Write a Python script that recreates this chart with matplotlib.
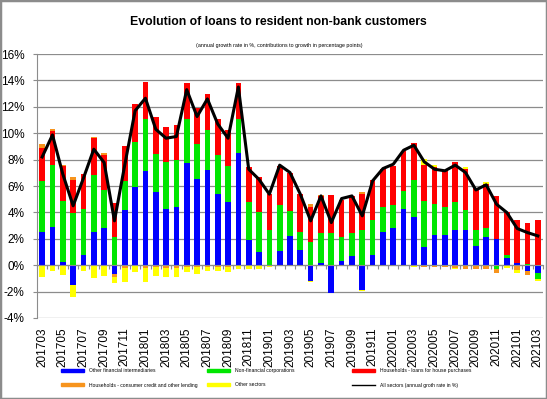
import numpy as np
import matplotlib.pyplot as plt
from matplotlib.patches import Patch, Rectangle
from matplotlib.lines import Line2D

plt.rcParams['font.family'] = ['Liberation Sans', 'DejaVu Sans']
plt.rcParams['axes.unicode_minus'] = False

# months 201703 .. 202103
months = ['201703', '201704', '201705', '201706', '201707', '201708', '201709',
          '201710', '201711', '201712', '201801', '201802', '201803', '201804',
          '201805', '201806', '201807', '201808', '201809', '201810', '201811',
          '201812', '201901', '201902', '201903', '201904', '201905', '201906',
          '201907', '201908', '201909', '201910', '201911', '201912', '202001',
          '202002', '202003', '202004', '202005', '202006', '202007', '202008',
          '202009', '202010', '202011', '202012', '202101', '202102', '202103']

# contributions to growth (percentage points)
ofi = [2.53, 2.90, 0.25, -1.49, 0.76, 2.53, 2.80, -0.68, 4.19, 5.96, 7.15, 5.56,
       4.24, 4.39, 7.73, 6.50, 7.20, 5.38, 4.80, 8.48, 1.92, 1.00, 0.05, 1.09,
       2.22, 1.16, -1.19, 0.15, -2.07, 0.33, 0.66, -1.87, 0.76, 2.53, 2.80, 4.24,
       3.66, 1.39, 2.30, 2.27, 2.68, 2.68, 1.46, 2.15, 1.97, 0.58, 0.15, -0.43, -0.56]
nfc = [3.86, 4.70, 4.62, 3.99, 3.48, 4.29, 2.90, 2.12, 2.20, 3.38, 3.95, 2.84,
       3.59, 3.59, 3.33, 2.67, 3.05, 2.95, 2.73, 2.58, 2.88, 3.00, 2.60, 3.46,
       1.90, 1.37, 1.77, 2.27, 2.42, 1.84, 1.76, 2.65, 2.65, 1.89, 1.77, 1.39,
       2.78, 3.48, 2.32, 2.15, 2.12, 1.49, 1.19, 0.70, -0.28, 0.18, 0.00, 0.10, -0.50]
house = [2.47, 2.53, 2.66, 2.47, 2.70, 2.80, 2.63, 2.63, 2.65, 2.86, 2.80, 2.84,
         2.67, 2.62, 2.74, 2.73, 2.75, 2.73, 2.70, 2.78, 2.67, 2.70, 2.73, 2.98,
         2.90, 2.85, 2.65, 2.83, 2.88, 2.75, 2.83, 2.73, 3.05, 2.85, 2.96, 3.03,
         2.78, 2.73, 2.85, 2.78, 3.03, 3.10, 3.23, 3.29, 3.28, 3.28, 3.26, 3.13, 3.41]
consumer = [0.31, 0.17, 0.05, 0.23, 0.00, 0.10, 0.15, -0.20, -0.18, 0.00, -0.18, -0.13,
            -0.18, -0.18, -0.13, -0.15, -0.10, -0.10, -0.10, -0.08, -0.05, -0.05, 0.00, 0.00,
            0.00, 0.00, 0.20, 0.08, 0.00, 0.00, 0.00, 0.17, 0.00, 0.00, 0.00, 0.00,
            0.00, -0.10, -0.10, -0.12, -0.23, -0.28, -0.28, -0.30, -0.30, 0.00, -0.38, -0.30, 0.00]
other = [-0.93, -0.43, -0.73, -0.91, -0.43, -0.98, -0.83, -0.46, -1.08, -0.48, -1.08, -0.70,
         -0.70, -0.70, -0.35, -0.53, -0.33, -0.33, -0.45, -0.22, -0.20, -0.25, -0.10, 0.00,
         0.00, 0.00, -0.05, 0.00, -0.05, 0.00, 0.00, -0.08, 0.00, 0.00, 0.00, 0.00,
         -0.10, 0.43, 0.11, 0.00, -0.07, 0.15, 0.00, 0.20, 0.00, -0.20, -0.20, 0.00, -0.13]
# annual growth rate, all sectors (%)
total = [8.20, 9.87, 6.90, 4.50, 6.60, 8.79, 7.78, 3.36, 7.60, 11.70, 12.65, 10.30,
         9.62, 9.75, 13.30, 11.26, 12.60, 10.70, 9.62, 13.50, 7.27, 6.50, 5.38, 7.58,
         7.02, 5.38, 3.36, 5.25, 3.23, 5.05, 5.25, 3.74, 6.39, 7.32, 7.65, 8.71,
         9.09, 7.83, 7.27, 7.15, 7.58, 7.02, 5.70, 6.09, 4.62, 3.99, 2.78, 2.47, 2.22]

names = ['Other financial intermediaries', 'Non-financial corporations',
         'Households - loans for house purchases',
         'Households - consumer credit and other lending', 'Other sectors']
colors = ['#0000FF', '#00E600', '#FF0000', '#F7941D', '#FFFF00']
series = [ofi, nfc, house, consumer, other]

fig = plt.figure(figsize=(5.47, 3.99), dpi=100)
ax = fig.add_axes([37 / 547, 81 / 399, 506 / 547, 264 / 399])

x = np.arange(len(months))
pos_base = np.zeros(len(x))
neg_base = np.zeros(len(x))
for vals, col, name in zip(series, colors, names):
    v = np.array(vals)
    base = np.where(v >= 0, pos_base, neg_base)
    ax.bar(x, v, 0.55, bottom=base, color=col, label=name, zorder=2)
    pos_base += np.clip(v, 0, None)
    neg_base += np.clip(v, None, 0)

ax.plot(x, total, color='black', lw=2.2, zorder=3)

ax.set_xlim(-0.5, len(x) - 0.5)
ax.set_ylim(-4, 16)
ax.set_yticks(np.arange(-4, 17, 2))
ax.set_yticklabels([f'{t}%' for t in range(-4, 17, 2)], fontsize=8.5)
ax.grid(axis='y', color='#8c8c8c', lw=0.9, zorder=0)
ax.tick_params(axis='y', length=3, color='#8c8c8c', pad=6)

for s in ['top', 'right']:
    ax.spines[s].set_visible(False)
ax.spines['left'].set_color('#8c8c8c')
ax.spines['bottom'].set_position(('data', 0))
ax.spines['bottom'].set_color('#8c8c8c')
ax.set_xticks(np.arange(len(x) + 1) - 0.5)
ax.tick_params(axis='x', length=3, color='#8c8c8c', labelbottom=False)

sec = ax.secondary_xaxis('bottom')
sec.set_xticks(x[::2], months[::2], rotation=90, fontsize=8.5)
sec.tick_params(length=0, pad=7)
sec.spines['bottom'].set_visible(False)

fig.text(0.508, 1 - 22 / 399, 'Evolution of loans to resident non-bank customers',
         ha='center', va='center', fontsize=8.8, fontweight='bold')
fig.text(0.51, 1 - 46 / 399,
         '(annual growth rate in %, contributions to growth in percentage points)',
         ha='center', va='center', fontsize=3.8)

# legend in three columns
h = [Patch(color=c) for c in colors] + [Line2D([], [], color='black', lw=1)]
labels = names + ['All sectors (annual groth rate in %)']
cols = [(61, [0, 3]), (207, [1, 4]), (352, [2, 5])]
for xp, idx in cols:
    fig.legend([h[i] for i in idx], [labels[i] for i in idx],
               loc='upper left', bbox_to_anchor=(xp / 547, 1 - 368 / 399),
               frameon=False, fontsize=3.6, handlelength=4.6, handleheight=0.6,
               labelspacing=1.9, borderpad=0, borderaxespad=0, handletextpad=1.0)

fig.patches.append(Rectangle((0, 0), 1, 1, transform=fig.transFigure,
                             fill=False, edgecolor='#8c8c8c', lw=2.5))

fig.savefig('out.png', dpi=100)
